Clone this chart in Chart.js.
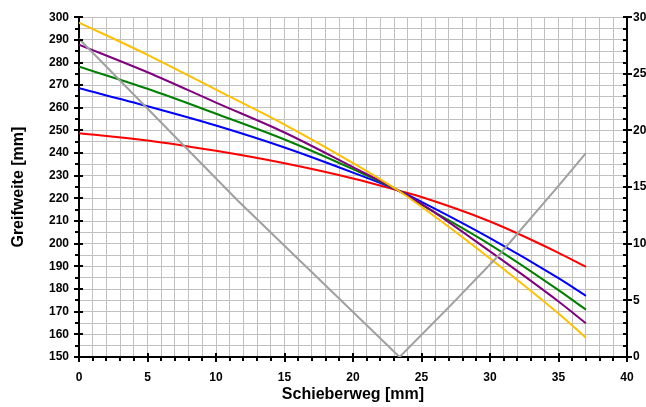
<!DOCTYPE html>
<html lang="de">
<head>
  <meta charset="UTF-8">
  <title>Greifweite</title>
  <script src="https://cdn.jsdelivr.net/npm/chart.js"></script>
  <style>
    html, body { margin: 0; padding: 0; background: #fff; overflow: hidden; }
    .box { width: 700px; height: 407px; }
  </style>
</head>
<body>
  <div class="box"><canvas id="grafico"></canvas></div>
<script>
// Schieberweg [mm]
const wegKurven = [0, 5, 10, 15, 20, 23.3, 25, 30, 35, 37];
// Greifweite [mm] je Kurve
const gelb   = [297.6, 283.4, 268.0, 252.6, 235.6, 223.5, 216.3, 193.5, 169.2, 158.5];
const lila   = [287.9, 275.7, 262.3, 249.1, 233.8, 223.5, 217.6, 196.6, 174.5, 164.9];
const gruen  = [278.1, 268.4, 257.4, 246.0, 232.9, 223.5, 217.3, 199.6, 179.5, 170.9];
const blau   = [268.6, 260.7, 252.2, 242.5, 231.4, 223.5, 218.5, 202.5, 184.8, 177.0];
const rot    = [248.8, 245.6, 241.0, 235.5, 228.8, 223.5, 220.6, 209.8, 196.0, 189.8];

// graue Kurve (rechte Achse)
const wegGrau = [0, 11.6, 23.4, 27, 30.7, 35, 37];
const grau    = [28.1, 13.8, 0, 4.4, 9.05, 15.1, 18.0];

const xTicks = [0, 5, 10, 15, 20, 25, 30, 35, 40];
const yTicks = [150, 160, 170, 180, 190, 200, 210, 220, 230, 240, 250, 260, 270, 280, 290, 300];
const y2Ticks = [0, 5, 10, 15, 20, 25, 30];

const fonte = 'Liberation Sans, Arial, sans-serif';

function pontos(xs, ys) {
  return xs.map((x, i) => ({ x: x, y: ys[i] }));
}

function serie(nome, cor, xs, ys, eixo, suave) {
  const s = {
    label: nome,
    data: pontos(xs, ys),
    borderColor: cor,
    backgroundColor: cor,
    borderWidth: 2,
    pointRadius: 0,
    fill: false,
    yAxisID: eixo,
    tension: 0
  };
  if (suave) s.cubicInterpolationMode = 'monotone';
  return s;
}

// Tick-Striche wie im Original (Haupt kreuzend, Neben nach aussen)
const tickStriche = {
  id: 'tickStriche',
  afterDraw(chart) {
    const ctx = chart.ctx;
    const a = chart.chartArea;
    const sx = chart.scales.x, sy = chart.scales.y, sy2 = chart.scales.y1;
    ctx.save();
    ctx.strokeStyle = '#000';
    ctx.lineWidth = 2;
    ctx.beginPath();
    for (let v = 0; v <= 40; v++) {
      const p = Math.round(sx.getPixelForValue(v));
      if (xTicks.includes(v)) { ctx.moveTo(p, a.bottom - 4); ctx.lineTo(p, a.bottom + 5); }
      else { ctx.moveTo(p, a.bottom); ctx.lineTo(p, a.bottom + 4); }
    }
    for (let v = 150; v <= 300; v += 5) {
      const p = Math.round(sy.getPixelForValue(v));
      if (yTicks.includes(v)) { ctx.moveTo(a.left - 5, p); ctx.lineTo(a.left + 4, p); }
      else { ctx.moveTo(a.left - 4, p); ctx.lineTo(a.left, p); }
    }
    for (let v = 0; v <= 30; v++) {
      const p = Math.round(sy2.getPixelForValue(v));
      if (y2Ticks.includes(v)) { ctx.moveTo(a.right - 4, p); ctx.lineTo(a.right + 5, p); }
      else { ctx.moveTo(a.right - 4, p); ctx.lineTo(a.right, p); }
    }
    ctx.stroke();
    ctx.restore();
  }
};

const fundo = {
  id: 'fundo',
  beforeDraw(chart) {
    const ctx = chart.ctx;
    ctx.save();
    ctx.fillStyle = '#fff';
    ctx.fillRect(0, 0, chart.width, chart.height);
    ctx.restore();
  }
};

const grafico = new Chart(document.getElementById('grafico').getContext('2d'), {
  type: 'line',
  data: {
    datasets: [
      serie('grau', '#a0a0a0', wegGrau, grau, 'y1', false),
      serie('gelb', '#ffc000', wegKurven, gelb, 'y', true),
      serie('lila', '#800080', wegKurven, lila, 'y', true),
      serie('gruen', '#008000', wegKurven, gruen, 'y', true),
      serie('blau', '#0000ff', wegKurven, blau, 'y', true),
      serie('rot', '#ff0000', wegKurven, rot, 'y', true)
    ]
  },
  options: {
    responsive: true,
    maintainAspectRatio: false,
    animation: false,
    layout: { padding: { top: 14, left: 0, right: 0, bottom: 0 } },
    plugins: {
      legend: { display: false },
      tooltip: { enabled: false }
    },
    scales: {
      x: {
        type: 'linear',
        min: 0,
        max: 40,
        afterFit: (s) => { s.height = 50; },
        ticks: {
          stepSize: 1,
          autoSkip: false,
          maxRotation: 0,
          padding: 13,
          color: '#000',
          font: { family: fonte, size: 12, weight: 'bold' },
          callback: (v) => xTicks.includes(v) ? v : ''
        },
        grid: { color: '#c0c0c0', lineWidth: 1, drawTicks: false },
        border: { display: true, color: '#000', width: 2 },
        title: {
          display: true,
          text: 'Schieberweg [mm]',
          color: '#000',
          font: { family: fonte, size: 16, weight: 'bold' },
          padding: { top: 0, bottom: 3 }
        }
      },
      y: {
        type: 'linear',
        position: 'left',
        min: 150,
        max: 300,
        afterFit: (s) => { s.width = 79; },
        ticks: {
          stepSize: 5,
          autoSkip: false,
          padding: 10,
          color: '#000',
          font: { family: fonte, size: 12, weight: 'bold' },
          callback: (v) => yTicks.includes(v) ? v : ''
        },
        grid: { color: '#c0c0c0', lineWidth: 1, drawTicks: false },
        border: { display: true, color: '#000', width: 2 },
        title: {
          display: true,
          text: 'Greifweite [mm]',
          color: '#000',
          font: { family: fonte, size: 16, weight: 'bold' },
          padding: { top: 9, bottom: 0 }
        }
      },
      y1: {
        type: 'linear',
        position: 'right',
        min: 0,
        max: 30,
        afterFit: (s) => { s.width = 73; },
        ticks: {
          stepSize: 1,
          autoSkip: false,
          padding: 6,
          color: '#000',
          font: { family: fonte, size: 12, weight: 'bold' },
          callback: (v) => y2Ticks.includes(v) ? v : ''
        },
        grid: { drawOnChartArea: false, drawTicks: false },
        border: { display: true, color: '#000', width: 2 }
      }
    }
  },
  plugins: [fundo, tickStriche]
});
</script>
</body>
</html>
